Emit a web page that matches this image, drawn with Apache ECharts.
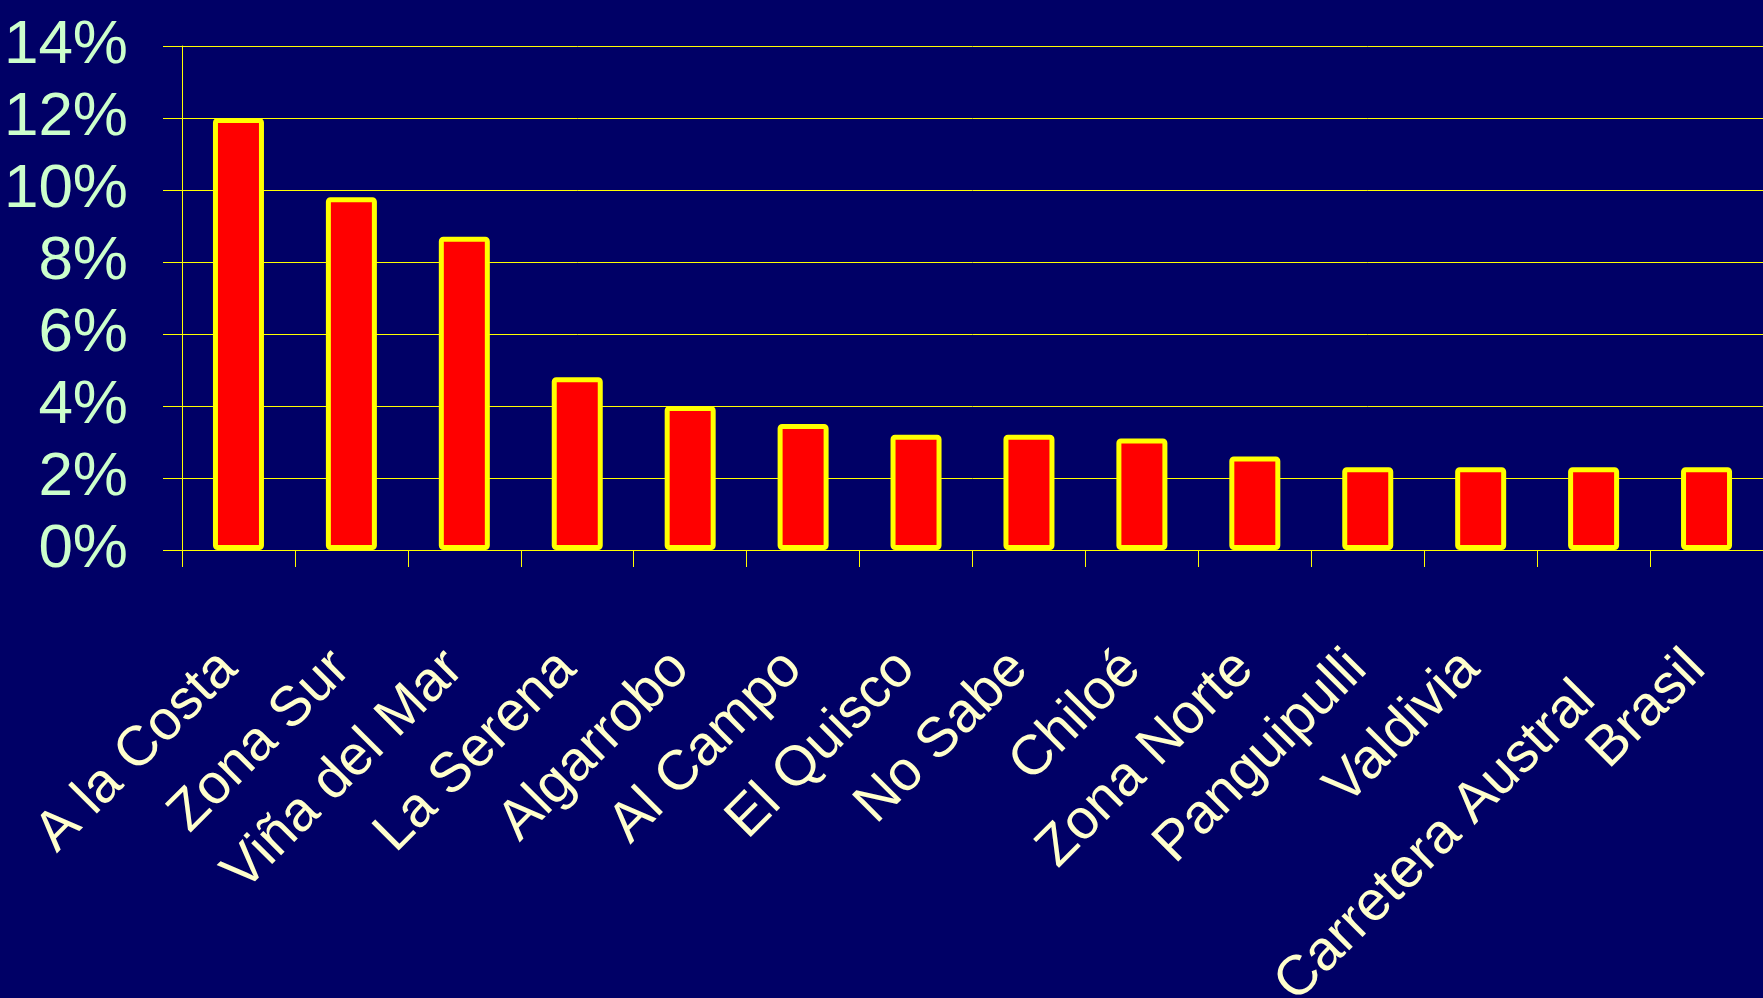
<!DOCTYPE html>
<html>
<head>
<meta charset="utf-8">
<script src="https://cdn.jsdelivr.net/npm/echarts@6/dist/echarts.min.js"></script>
<style>
html,body{margin:0;padding:0;background:#000066;}
#chart{width:1763px;height:998px;}
</style>
</head>
<body>
<div id="chart"></div>
<script>
const categories = ['A la Costa','Zona Sur','Viña del Mar','La Serena','Algarrobo','Al Campo','El Quisco','No Sabe','Chiloé','Zona Norte','Panguipulli','Valdivia','Carretera Austral','Brasil'];
const values = [12.0, 9.8, 8.7, 4.8, 4.0, 3.5, 3.2, 3.2, 3.1, 2.6, 2.3, 2.3, 2.3, 2.3];
const yTicks = [0, 2, 4, 6, 8, 10, 12, 14];

const chart = echarts.init(document.getElementById('chart'));
chart.setOption({
  backgroundColor: '#000066',
  animation: false,
  grid: { left: 182, right: 0, top: 46, bottom: 448, containLabel: false, outerBoundsMode: 'none' },
  xAxis: {
    type: 'category',
    data: categories,
    axisLine: { show: true, lineStyle: { color: '#FFFF00', width: 1 } },
    axisTick: { show: true, length: 17, inside: false, alignWithLabel: false, lineStyle: { color: '#FFFF00', width: 1 } },
    axisLabel: {
      interval: 0,
      rotate: 45,
      margin: 110,
      padding: [0, 7, 14, 0],
      hideOverlap: false,
      color: '#FFFFCC',
      fontFamily: "'Liberation Sans', Arial, sans-serif",
      fontSize: 56,
      formatter: v => v === 'Carretera Austral' ? '{lo|' + v + '}' : v,
      rich: {
        lo: {
          color: '#FFFFCC',
          fontFamily: "'Liberation Sans', Arial, sans-serif",
          fontSize: 56,
          padding: [48, 20, 0, 0]
        }
      }
    },
    splitLine: { show: false }
  },
  yAxis: {
    type: 'value',
    min: yTicks[0],
    max: yTicks[yTicks.length - 1],
    interval: 2,
    axisLine: { show: true, lineStyle: { color: '#FFFF00', width: 1 } },
    axisTick: { show: true, length: 19, inside: false, lineStyle: { color: '#FFFF00', width: 1 } },
    axisLabel: {
      margin: 54,
      showMinLabel: true,
      showMaxLabel: true,
      hideOverlap: false,
      color: '#CCFFCC',
      fontFamily: "'Liberation Sans', Arial, sans-serif",
      fontSize: 62,
      formatter: v => v + '%'
    },
    splitLine: { show: true, lineStyle: { color: '#FFFF00', width: 1 } }
  },
  series: [{
    type: 'bar',
    data: values,
    barWidth: 51,
    itemStyle: { color: '#FF0000', borderColor: '#FFFF00', borderWidth: 5, borderRadius: 2 }
  }]
});
</script>
</body>
</html>
